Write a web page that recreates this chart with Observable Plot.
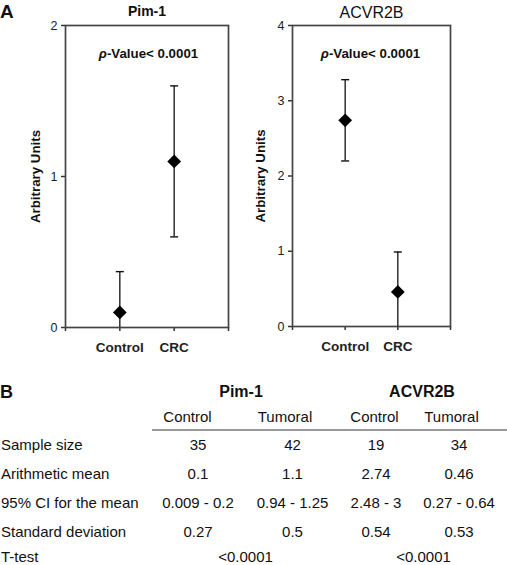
<!DOCTYPE html>
<html><head><meta charset="utf-8">
<script src="https://cdn.jsdelivr.net/npm/d3@7"></script>
<script src="https://cdn.jsdelivr.net/npm/@observablehq/plot@0.6"></script>
<style>
body{margin:0;background:#fff;font-family:"Liberation Sans",Arial,sans-serif;}
#root{position:relative;width:507px;height:565px;overflow:hidden;background:#fff;}
#root > svg{position:absolute;}
</style></head><body><div id="root"></div>
<script>
// ---- Data (panel A) ----
const groups = ["Control", "CRC"];
const pimMean = [0.1, 1.1];
const pimSD = [0.27, 0.5];
const acvMean = [2.74, 0.46];
const acvSD = [0.54, 0.53];
const pLabel = "ρ-Value< 0.0001";

// ---- Data (panel B table) ----
const tableGenes = ["Pim-1", "ACVR2B"];
const tableCols = ["Control", "Tumoral", "Control", "Tumoral"];
const rowLabels = ["Sample size", "Arithmetic mean", "95% CI for the mean", "Standard deviation", "T-test"];
const sampleSize = ["35", "42", "19", "34"];
const arithMean = ["0.1", "1.1", "2.74", "0.46"];
const ci95 = ["0.009 - 0.2", "0.94 - 1.25", "2.48 - 3", "0.27 - 0.64"];
const stdDev = ["0.27", "0.5", "0.54", "0.53"];
const tTest = ["<0.0001", "<0.0001"];

const FONT = "'Liberation Sans', Arial, sans-serif";
const root = document.getElementById("root");

const cap = {draw(ctx) { ctx.moveTo(-4, 0); ctx.lineTo(4, 0); }};

function panel({title, titleWeight, titleSize, titleDy, means, sds, yMax, width, marginLeft, marginRight, marginBottom, labelDx, pDx}) {
  const data = groups.map((g, i) => ({
    g, pos: i + 1, mean: means[i],
    lo: Math.max(0, means[i] - sds[i]), hi: means[i] + sds[i],
    hasLo: means[i] - sds[i] >= 0
  }));
  const svg = Plot.plot({
    width, height: 370, marginLeft, marginRight, marginTop: 25, marginBottom,
    style: {fontFamily: FONT, background: "white", color: "#222"},
    x: {domain: [0, 3], axis: null},
    y: {domain: [0, yMax], axis: null},
    marks: [
      Plot.axisY({ticks: d3.range(0, yMax + 1), tickSize: 4, tickPadding: 4, fontSize: 12.5, tickFormat: d => String(d), stroke: "#333", strokeWidth: 1.5, label: null}),
      Plot.axisX({ticks: [0, 1, 2, 3], tickSize: 4, tickPadding: 11, fontSize: 13.5, fontWeight: "bold", tickFormat: d => groups[d - 1] ?? "", stroke: "#333", strokeWidth: 1.5, label: null}),
      Plot.frame({stroke: "#444", strokeWidth: 1.7}),
      Plot.ruleX(data, {x: "pos", y1: "lo", y2: "hi", stroke: "#111", strokeWidth: 1.3}),
      Plot.dot(data, {x: "pos", y: "hi", symbol: cap, fill: "none", stroke: "#111", strokeWidth: 1.4}),
      Plot.dot(data.filter(d => d.hasLo), {x: "pos", y: "lo", symbol: cap, fill: "none", stroke: "#111", strokeWidth: 1.4}),
      Plot.dot(data, {x: "pos", y: "mean", symbol: "diamond2", r: 6.2, fill: "black", stroke: "none"}),
      Plot.text([title], {frameAnchor: "top", lineAnchor: "middle", dy: titleDy, fontSize: titleSize, fontWeight: titleWeight, fill: "#111"}),
      Plot.text([pLabel], {frameAnchor: "top", lineAnchor: "middle", dy: 28, dx: pDx, fontSize: 13.3, fontWeight: "bold", fill: "#111"}),
      Plot.text(["Arbitrary Units"], {frameAnchor: "left", textAnchor: "middle", rotate: -90, dx: labelDx, lineAnchor: "middle", fontSize: 13.3, fontWeight: "bold", fill: "#111"})
    ]
  });
  svg.querySelectorAll("text").forEach(t => {
    if (t.textContent === pLabel) {
      t.innerHTML = '<tspan font-style="italic">ρ</tspan>-Value&lt; 0.0001';
    }
  });
  return svg;
}

const left = panel({title: "Pim-1", titleWeight: "bold", titleSize: 14, titleDy: -13.5, means: pimMean, sds: pimSD, yMax: 2,
  width: 250, marginLeft: 65, marginRight: 22, marginBottom: 43, labelDx: -30, pDx: 1.5});
left.style.left = "0px"; left.style.top = "0px";
root.appendChild(left);

const right = panel({title: "ACVR2B", titleWeight: "normal", titleSize: 16, titleDy: -12.5, means: acvMean, sds: acvSD, yMax: 4,
  width: 257, marginLeft: 42, marginRight: 57, marginBottom: 44, labelDx: -32, pDx: -1});
right.style.left = "250px"; right.style.top = "0px";
root.appendChild(right);

// Panel letter A
const sA = d3.create("svg").attr("width", 30).attr("height", 24).style("left", "0px").style("top", "0px");
sA.append("text").attr("x", 0).attr("y", 18).attr("font-family", FONT).attr("font-weight", "bold").attr("font-size", 19).attr("fill", "#111").text("A");
root.appendChild(sA.node());

// ---- Panel B table ----
const tb = d3.create("svg").attr("width", 507).attr("height", 185).style("left", "0px").style("top", "380px")
  .attr("font-family", FONT).attr("fill", "#111");
tb.append("text").attr("x", 0).attr("y", 18).attr("font-weight", "bold").attr("font-size", 18).text("B");
const geneX = [241, 422];
tableGenes.forEach((g, i) => tb.append("text").attr("x", geneX[i]).attr("y", 17).attr("text-anchor", "middle").attr("font-weight", "bold").attr("font-size", 16).text(g));
const subX = [187.5, 285, 374.5, 451.5];
tableCols.forEach((c, i) => tb.append("text").attr("x", subX[i]).attr("y", 42).attr("text-anchor", "middle").attr("font-size", 15).text(c));
tb.append("line").attr("x1", 152).attr("x2", 507).attr("y1", 50).attr("y2", 50).attr("stroke", "#333").attr("stroke-width", 1.2);
const valX = [198, 292.5, 376, 459];
const rows = [sampleSize, arithMean, ci95, stdDev];
const baseY = [70, 99, 128, 157, 182];
rowLabels.forEach((l, r) => tb.append("text").attr("x", 1).attr("y", baseY[r]).attr("font-size", 15).text(l));
rows.forEach((vals, r) => vals.forEach((v, c) => tb.append("text").attr("x", valX[c]).attr("y", baseY[r]).attr("text-anchor", "middle").attr("font-size", 15).text(v)));
const tX = [245.5, 423.5];
tTest.forEach((v, i) => tb.append("text").attr("x", tX[i]).attr("y", baseY[4]).attr("text-anchor", "middle").attr("font-size", 15).text(v));
root.appendChild(tb.node());
</script></body></html>
